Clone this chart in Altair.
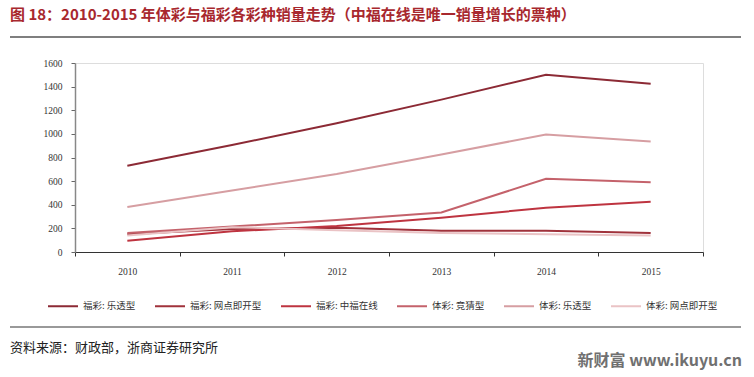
import altair as alt
import pandas as pd

years = ["2010", "2011", "2012", "2013", "2014", "2015"]
series_names = ["福彩: 乐透型", "福彩: 网点即开型", "福彩: 中福在线",
                "体彩: 竞猜型", "体彩: 乐透型", "体彩: 网点即开型"]
fc_lotto = [730, 905, 1090, 1290, 1500, 1425]
fc_instant = [150, 195, 205, 180, 180, 160]
fc_zhongfu = [95, 175, 220, 290, 375, 425]
tc_quiz = [160, 215, 270, 335, 620, 590]
tc_lotto = [380, 520, 660, 825, 995, 935]
tc_instant = [140, 210, 185, 160, 150, 140]
series_values = [fc_lotto, fc_instant, fc_zhongfu, tc_quiz, tc_lotto, tc_instant]
colors = ["#8C2A35", "#A0323B", "#BE3440", "#C4626B", "#D69EA2", "#EAC3C5"]

title_text = "图 18：2010-2015 年体彩与福彩各彩种销量走势（中福在线是唯一销量增长的票种）"
source_text = "资料来源：财政部，浙商证券研究所"
watermark_text = "新财富 www.ikuyu.cn"
y_ticks = [0, 200, 400, 600, 800, 1000, 1200, 1400, 1600]

rows = []
for name, vals in zip(series_names, series_values):
    for yr, v in zip(years, vals):
        rows.append({"year": yr, "series": name, "value": v})
df = pd.DataFrame(rows)

serif = "Liberation Serif, DejaVu Serif, serif"
cjk = "Noto Sans CJK SC"

lines = alt.Chart(df).mark_line(strokeWidth=2).encode(
    x=alt.X("year:O", sort=years,
            scale=alt.Scale(type="band", paddingInner=0, paddingOuter=0),
            axis=alt.Axis(title=None, labelAngle=0, tickBand="extent", tickSize=4,
                          labelPadding=10, domainColor="#333", tickColor="#333",
                          labelFont=serif, labelFontSize=9.5, labelColor="#333")),
    y=alt.Y("value:Q", scale=alt.Scale(domain=[0, 1600], nice=False),
            axis=alt.Axis(title=None, values=y_ticks, format="d", grid=False, tickSize=4,
                          labelPadding=9, domainColor="#888", domainWidth=1.5,
                          tickColor="#666", labelFont=serif, labelFontSize=9.5,
                          labelColor="#333")),
    color=alt.Color("series:N", sort=series_names,
                    scale=alt.Scale(domain=series_names, range=colors),
                    legend=alt.Legend(title=None, orient="none", legendX=-28, legendY=227,
                                      direction="horizontal", columns=6,
                                      symbolType="stroke", symbolSize=900,
                                      symbolStrokeWidth=2, labelFont=cjk,
                                      labelFontSize=9.5, labelColor="#333",
                                      labelOffset=4, columnPadding=15)),
    order=alt.Order("series:N"),
)

title = alt.Chart(pd.DataFrame({"t": [title_text]})).mark_text(
    align="left", baseline="middle", fontSize=15, fontWeight="bold",
    font="Liberation Sans Narrow, Noto Sans CJK SC", color="#A8282E"
).encode(text="t:N", x=alt.value(-65), y=alt.value(-48))

rule_top = alt.Chart(pd.DataFrame({"a": [0]})).mark_rule(color="#555", strokeWidth=1.5).encode(
    x=alt.value(-65), x2=alt.value(666), y=alt.value(-26))
rule_bottom = alt.Chart(pd.DataFrame({"a": [0]})).mark_rule(color="#777", strokeWidth=1.5).encode(
    x=alt.value(-65), x2=alt.value(666), y=alt.value(264))

source = alt.Chart(pd.DataFrame({"t": [source_text]})).mark_text(
    align="left", baseline="middle", fontSize=13, font=cjk, color="#222"
).encode(text="t:N", x=alt.value(-65), y=alt.value(285))

watermark = alt.Chart(pd.DataFrame({"t": [watermark_text]})).mark_text(
    align="right", baseline="middle", fontSize=16, fontWeight="bold",
    font="Liberation Sans Narrow, Noto Sans CJK SC", color="#707070"
).encode(text="t:N", x=alt.value(667), y=alt.value(298))

chart = alt.layer(lines, title, rule_top, rule_bottom, source, watermark).properties(
    width=628, height=189,
    autosize=alt.AutoSizeParams(type="none"),
    padding={"left": 75, "top": 63, "right": 51, "bottom": 125},
).configure_view(stroke=None).configure(background="white")

chart.save("out.html", embed_options={"renderer": "svg", "actions": False})
